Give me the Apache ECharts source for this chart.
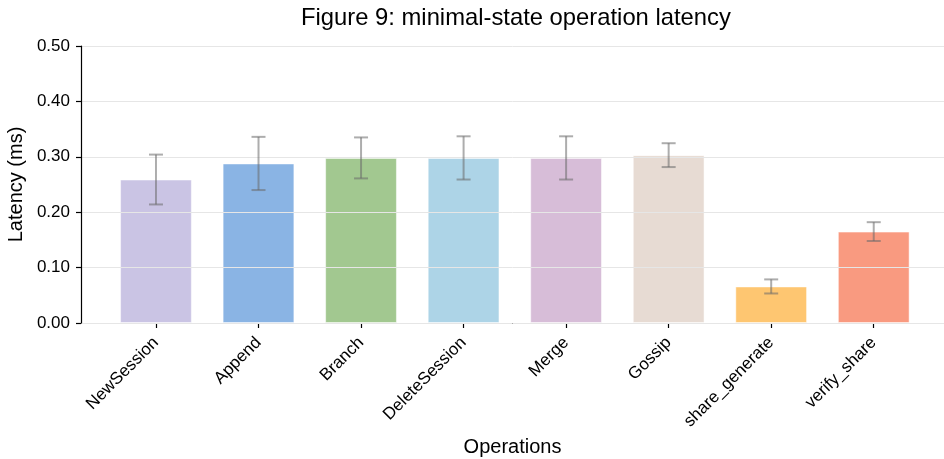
<!DOCTYPE html>
<html>
<head>
<meta charset="utf-8">
<script src="https://cdn.jsdelivr.net/npm/echarts@6/dist/echarts.min.js"></script>
<style>
html,body{margin:0;padding:0;background:#fff;}
#chart{width:944px;height:459px;}
</style>
</head>
<body>
<div id="chart"></div>
<script>
const categories = ["NewSession","Append","Branch","DeleteSession","Merge","Gossip","share_generate","verify_share"];
const latency = [0.259, 0.288, 0.298, 0.298, 0.298, 0.303, 0.066, 0.165];
const errors = [0.045, 0.048, 0.037, 0.039, 0.039, 0.0215, 0.0127, 0.017];
const colors = ["#cac4e4","#8ab4e4","#a2c890","#add4e7","#d7bdd8","#e7dbd3","#fec671","#f99a80"];
const yTicks = [0, 0.1, 0.2, 0.3, 0.4, 0.5];

const FONT = "'Liberation Sans', Arial, sans-serif";
const chart = echarts.init(document.getElementById('chart'), null, {renderer: 'canvas'});

const option = {
  backgroundColor: '#fff',
  animation: false,
  title: {
    text: 'Figure 9: minimal-state operation latency',
    left: 296, top: 1,
    textStyle: {fontFamily: FONT, fontSize: 23.8, fontWeight: 'normal', color: '#000'}
  },
  grid: [
    {left: 81, right: 0, top: 46, bottom: 136, containLabel: false, outerBoundsMode: 'none'},
    {left: 104.7, right: 19, top: 46, bottom: 136, containLabel: false, outerBoundsMode: 'none'}
  ],
  xAxis: [
    {gridIndex: 0, type: 'category', data: [''], boundaryGap: false,
     axisLine: {show: true, lineStyle: {color: '#000', width: 1.2}},
     axisTick: {show: false}, axisLabel: {show: false}, splitLine: {show: false},
     name: 'Operations', nameLocation: 'middle', nameGap: 114,
     nameTextStyle: {fontFamily: FONT, fontSize: 20, color: '#000'}},
    {gridIndex: 1, type: 'category', data: categories,
     axisLine: {show: false},
     axisTick: {show: true, alignWithLabel: true, length: 5, lineStyle: {color: '#000', width: 1.2}},
     axisLabel: {rotate: 45, margin: 17, fontFamily: FONT, fontSize: 17, color: '#000', interval: 0},
     splitLine: {show: false}}
  ],
  yAxis: [
    {gridIndex: 0, type: 'value', min: 0, max: 0.5, interval: 0.1, z: 3,
     axisLine: {show: true, lineStyle: {color: '#000', width: 1.2}},
     axisTick: {show: true, length: 5, lineStyle: {color: '#000', width: 1.2}},
     axisLabel: {margin: 11, fontFamily: FONT, fontSize: 17, color: '#000',
                 formatter: v => v.toFixed(2)},
     splitLine: {show: true, lineStyle: {color: '#e6e6e6', width: 1}},
     name: 'Latency (ms)', nameLocation: 'middle', nameGap: 49,
     nameTextStyle: {fontFamily: FONT, fontSize: 20, color: '#000'}},
    {gridIndex: 1, type: 'value', min: 0, max: 0.5, show: false}
  ],
  series: [
    {
      type: 'bar', xAxisIndex: 1, yAxisIndex: 1, barWidth: '70%',
      data: latency.map((v, i) => ({value: v, itemStyle: {color: colors[i]}})),
      itemStyle: {borderColor: 'rgba(255,255,255,0.5)', borderWidth: 1},
      z: 2
    },
    {
      type: 'custom', xAxisIndex: 1, yAxisIndex: 1, z: 4,
      data: latency.map((v, i) => [i, v - errors[i], v + errors[i]]),
      renderItem: function (params, api) {
        const lo = api.coord([api.value(0), api.value(1)]);
        const hi = api.coord([api.value(0), api.value(2)]);
        const cap = 7;
        const st = {stroke: 'rgba(105,105,105,0.55)', lineWidth: 2};
        return {
          type: 'group',
          children: [
            {type: 'line', shape: {x1: hi[0], y1: hi[1], x2: lo[0], y2: lo[1]}, style: st},
            {type: 'line', shape: {x1: hi[0]-cap, y1: hi[1], x2: hi[0]+cap, y2: hi[1]}, style: st},
            {type: 'line', shape: {x1: lo[0]-cap, y1: lo[1], x2: lo[0]+cap, y2: lo[1]}, style: st}
          ]
        };
      }
    }
  ]
};
chart.setOption(option);
</script>
</body>
</html>
